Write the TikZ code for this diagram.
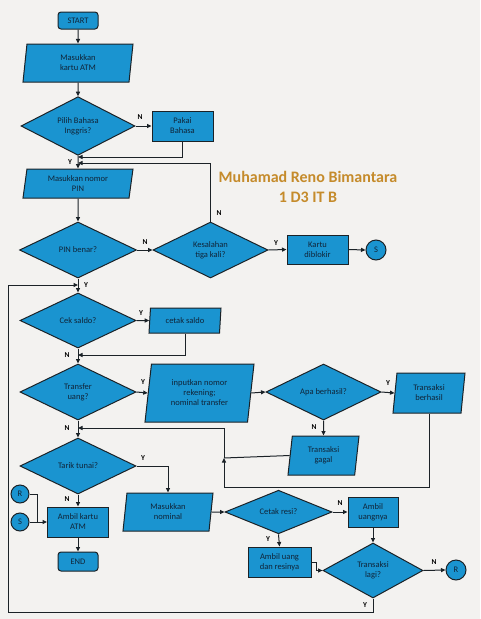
\documentclass[tikz,border=0pt]{standalone}
\usepackage{fontspec}
\setmainfont{Carlito}
\usetikzlibrary{shapes.geometric,arrows.meta}
\definecolor{bg}{HTML}{F3F2F0}
\definecolor{blu}{HTML}{1A94D0}
\definecolor{edge}{HTML}{1B2227}
\definecolor{txt}{HTML}{102438}
\definecolor{gold}{HTML}{C58B2B}
\tikzset{
  base/.style={draw=edge, fill=blu, line width=1pt, text=txt, font=\fontsize{8.5}{10}\selectfont, align=center, inner sep=0pt},
  proc/.style={base, rectangle},
  io/.style={base, trapezium, trapezium left angle=76, trapezium right angle=104, trapezium stretches body},
  dec/.style={base, diamond},
  term/.style={base, rectangle, rounded corners=3pt},
  conn/.style={base, circle},
  lab/.style={font=\bfseries\fontsize{7.5}{7.5}\selectfont, text=black, inner sep=0pt},
  arr/.style={-{Triangle[length=4.5pt,width=4pt]}, line width=1pt, draw=edge},
  ln/.style={line width=1pt, draw=edge}
}
\begin{document}
\begin{tikzpicture}[x=1pt,y=-1pt]
\useasboundingbox[fill=bg] (0,0) rectangle (480,619);

% nodes
\node[term, minimum width=40pt, minimum height=17pt] (start) at (78,20.5) {START};
\node[io, minimum width=110pt, minimum height=38pt] (kartu) at (78,63) {Masukkan\\kartu ATM};
\node[dec, minimum width=114pt, minimum height=56pt] (pilih) at (78,126) {Pilih Bahasa\\Inggris?};
\node[proc, minimum width=61pt, minimum height=30pt] (pakai) at (182.5,126) {Pakai\\Bahasa};
\node[io, minimum width=110pt, minimum height=29pt] (pin) at (78,183.5) {Masukkan nomor\\PIN};
\node[dec, minimum width=117pt, minimum height=56pt] (benar) at (78,250) {PIN benar?};
\node[dec, minimum width=115pt, minimum height=56pt] (salah) at (210.5,250) {Kesalahan\\tiga kali?};
\node[proc, minimum width=61pt, minimum height=29pt] (blokir) at (317.5,249.5) {Kartu\\diblokir};
\node[conn, minimum size=20pt] (s1) at (376,250) {S};
\node[dec, minimum width=116pt, minimum height=55pt] (cek) at (78,320.5) {Cek saldo?};
\node[io, minimum width=72pt, minimum height=25pt] (cetak) at (185,320.5) {cetak saldo};
\node[dec, minimum width=116pt, minimum height=56pt] (transfer) at (78,392) {Transfer\\uang?};
\node[io, minimum width=109pt, minimum height=58pt] (input) at (199.5,393) {inputkan nomor\\rekening;\\nominal transfer};
\node[dec, minimum width=115pt, minimum height=56pt] (apa) at (323.5,392) {Apa berhasil?};
\node[io, minimum width=72pt, minimum height=40pt] (berhasil) at (429,393) {Transaksi\\berhasil};
\node[io, minimum width=71pt, minimum height=39pt] (gagal) at (323.5,455.5) {Transaksi\\gagal};
\node[dec, minimum width=116pt, minimum height=56pt] (tarik) at (78,466) {Tarik tunai?};
\node[io, minimum width=90pt, minimum height=38pt] (nominal) at (168,512) {Masukkan\\nominal};
\node[proc, minimum width=61pt, minimum height=30pt] (ambilkartu) at (78,522) {Ambil kartu\\ATM};
\node[conn, minimum size=18pt] (r1) at (20,494) {R};
\node[conn, minimum size=18pt] (s2) at (20,522) {S};
\node[term, minimum width=40pt, minimum height=19pt] (end) at (78,561.5) {END};
\node[dec, minimum width=107pt, minimum height=42pt] (resi) at (278.5,512) {Cetak resi?};
\node[proc, minimum width=50pt, minimum height=30pt] (uangnya) at (373,512) {Ambil\\uangnya};
\node[proc, minimum width=63pt, minimum height=30pt] (uangresi) at (279.5,562) {Ambil uang\\dan resinya};
\node[dec, minimum width=100pt, minimum height=55pt] (lagi) at (373,570.5) {Transaksi\\lagi?};
\node[conn, minimum size=20pt] (r2) at (456,570) {R};

% title
\node[font=\bfseries\fontsize{16}{18}\selectfont, text=gold, inner sep=0pt] (t1) at (308,177) {Muhamad Reno Bimantara};
\node[font=\bfseries\fontsize{16}{18}\selectfont, text=gold, inner sep=0pt] (t2) at (308,197) {1 D3 IT B};

% junction coordinates
\coordinate (j1) at (78,157);
\coordinate (j2) at (78,163);
\coordinate (j3) at (78,355);
\coordinate (j4) at (78,428);
\coordinate (j5) at (78,285);
\coordinate (k1) at (224,487);
\coordinate (k2) at (224,458);
\coordinate (k3) at (224,428);
\coordinate (m1) at (316,562);
\coordinate (m2) at (316,570.5);
\coordinate (l1) at (8,612);
\coordinate (rr) at (37,494);
\coordinate (rs) at (37,522);

% connectors
\draw[arr] (start) -- (kartu);
\draw[arr] (kartu) -- (pilih);
\draw[arr] (pilih.east) -- (pakai.west);
\draw[arr] (pilih.south) -- (pin.north);
\draw[arr] (pakai.south) |- (j1);
\draw[arr] (salah.north) |- (j2);
\draw[arr] (pin) -- (benar);
\draw[arr] (benar.east) -- (salah.west);
\draw[arr] (salah.east) -- (blokir.west);
\draw[arr] (blokir.east) -- (s1.west);
\draw[arr] (benar.south) -- (cek.north);
\draw[arr] (cek.east) -- (cetak.west);
\draw[arr] (cetak.south) |- (j3);
\draw[arr] (cek.south) -- (transfer.north);
\draw[arr] (transfer.east) -- (input.west);
\draw[arr] (input.east) -- (apa.west);
\draw[arr] (apa.east) -- (berhasil.west);
\draw[arr] (apa.south) -- (gagal.north);
\draw[ln] (berhasil.south) |- (k1);
\draw[arr] (k1) -- (k2);
\draw[ln] (k2) -- (k3);
\draw[arr] (k3) -- (j4);
\draw[ln] (gagal.west) -- (k2);
\draw[arr] (transfer.south) -- (tarik.north);
\draw[arr] (tarik.east) -| (nominal.north);
\draw[arr] (tarik.south) -- (ambilkartu.north);
\draw[ln] (r1.east) -- (rr) -- (rs);
\draw[arr] (s2.east) -- (ambilkartu.west);
\draw[arr] (ambilkartu.south) -- (end.north);
\draw[arr] (nominal.east) -- (resi.west);
\draw[arr] (resi.east) -- (uangnya.west);
\draw[arr] (resi.south) -- (uangresi.north);
\draw[arr] (uangnya.south) -- (lagi.north);
\draw[arr] (uangresi.east) -- (m1) -- (m2) -- (lagi.west);
\draw[arr] (lagi.east) -- (r2.west);
\draw[arr] (lagi.south) |- (l1) |- (j5);

% labels
\node[lab] (n1) at (140,117) {N};
\node[lab] (y1) at (70,162) {Y};
\node[lab] (n2) at (219,213) {N};
\node[lab] (n3) at (145,242) {N};
\node[lab] (y2) at (276,243) {Y};
\node[lab] (y3) at (86,285) {Y};
\node[lab] (y4) at (141,313) {Y};
\node[lab] (n4) at (67,355) {N};
\node[lab] (y5) at (143,382) {Y};
\node[lab] (y6) at (388,383) {Y};
\node[lab] (n5) at (314,427) {N};
\node[lab] (n6) at (67,428) {N};
\node[lab] (y7) at (143,458) {Y};
\node[lab] (n7) at (67,499) {N};
\node[lab] (n8) at (340,503) {N};
\node[lab] (y8) at (268,539) {Y};
\node[lab] (n9) at (434,562) {N};
\node[lab] (y9) at (365,605) {Y};
\end{tikzpicture}
\end{document}
